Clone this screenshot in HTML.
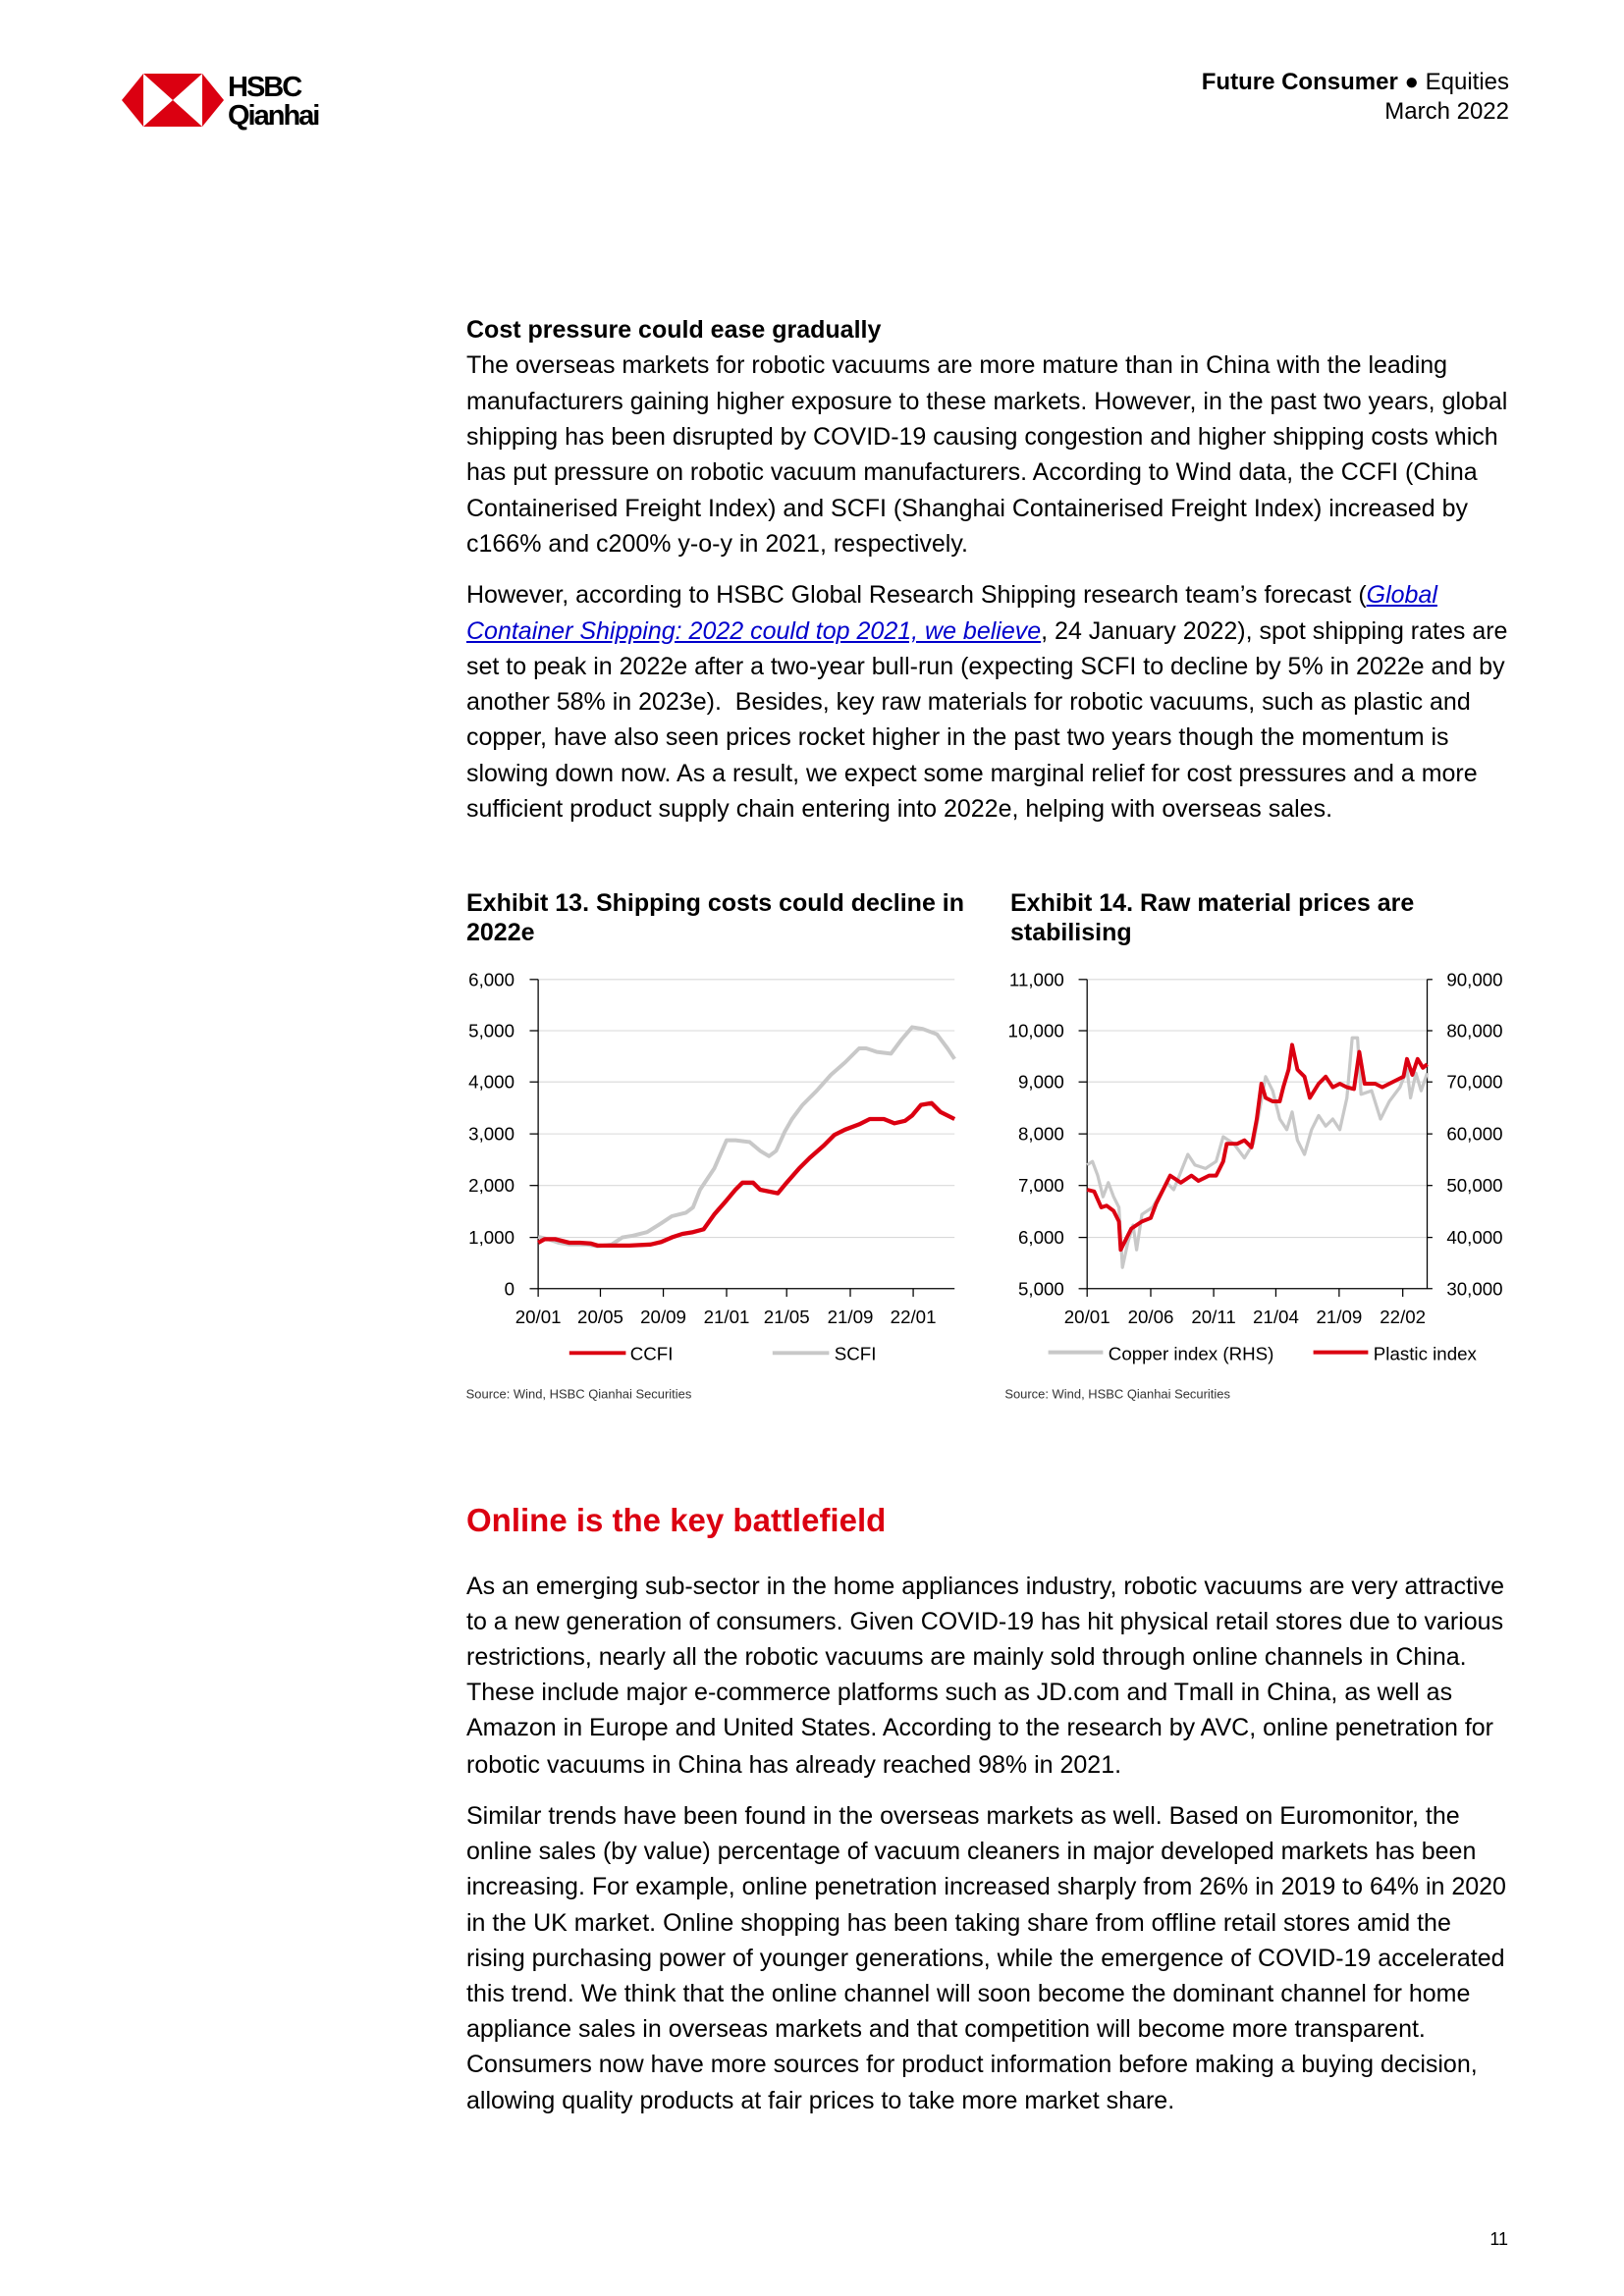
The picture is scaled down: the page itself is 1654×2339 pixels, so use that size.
<!DOCTYPE html>
<html><head><meta charset="utf-8">
<style>
body{margin:0;background:#fff;}
#p{position:relative;width:1654px;height:2339px;overflow:hidden;font-family:"Liberation Sans",Arial,sans-serif;color:#000;}
.l{position:absolute;left:475px;white-space:nowrap;font-size:25px;line-height:30px;}
.b{font-weight:bold;}
a{color:#00c;font-style:italic;text-decoration:underline;}
.t{position:absolute;white-space:nowrap;font-size:25px;font-weight:bold;line-height:30px;}
</style></head><body><div id="p">
<svg style="position:absolute;left:0;top:0" width="1654" height="2339">
<polygon points="124,102 146,75 206,75 228,102 206,129 146,129" fill="#db0011"/>
<polygon points="146,75 176,102 146,129" fill="#fff"/>
<polygon points="206,75 176,102 206,129" fill="#fff"/>
<text x="232" y="98" font-family="Liberation Sans" font-weight="bold" font-size="29" letter-spacing="-2">HSBC</text>
<text x="232" y="127" font-family="Liberation Sans" font-weight="bold" font-size="29" letter-spacing="-2">Qianhai</text>
<text x="1537" y="91" text-anchor="end" font-family="Liberation Sans" font-size="24"><tspan font-weight="bold">Future Consumer</tspan> ● Equities</text>
<text x="1537" y="121" text-anchor="end" font-family="Liberation Sans" font-size="24">March 2022</text>

<!-- chart 1 -->
<g transform="translate(461,888) scale(0.36)" font-family="Liberation Sans" font-size="52" fill="#000">
<g stroke="#d9d9d9" stroke-width="3">
<line x1="242" y1="305" x2="1420" y2="305"/><line x1="242" y1="450" x2="1420" y2="450"/><line x1="242" y1="595" x2="1420" y2="595"/><line x1="242" y1="742" x2="1420" y2="742"/><line x1="242" y1="888" x2="1420" y2="888"/><line x1="242" y1="1035" x2="1420" y2="1035"/>
</g>
<g stroke="#000" stroke-width="3.5">
<line x1="242" y1="305" x2="242" y2="1180"/><line x1="242" y1="1180" x2="1420" y2="1180"/>
<line x1="218" y1="305" x2="242" y2="305"/><line x1="218" y1="450" x2="242" y2="450"/><line x1="218" y1="595" x2="242" y2="595"/><line x1="218" y1="742" x2="242" y2="742"/><line x1="218" y1="888" x2="242" y2="888"/><line x1="218" y1="1035" x2="242" y2="1035"/><line x1="218" y1="1180" x2="242" y2="1180"/>
<line x1="242" y1="1180" x2="242" y2="1203"/><line x1="418" y1="1180" x2="418" y2="1203"/><line x1="596" y1="1180" x2="596" y2="1203"/><line x1="775" y1="1180" x2="775" y2="1203"/><line x1="945" y1="1180" x2="945" y2="1203"/><line x1="1125" y1="1180" x2="1125" y2="1203"/><line x1="1303" y1="1180" x2="1303" y2="1203"/>
</g>
<g text-anchor="end">
<text x="175" y="323">6,000</text><text x="175" y="468">5,000</text><text x="175" y="613">4,000</text><text x="175" y="760">3,000</text><text x="175" y="906">2,000</text><text x="175" y="1053">1,000</text><text x="175" y="1198">0</text>
</g>
<g text-anchor="middle">
<text x="242" y="1278">20/01</text><text x="418" y="1278">20/05</text><text x="596" y="1278">20/09</text><text x="775" y="1278">21/01</text><text x="945" y="1278">21/05</text><text x="1125" y="1278">21/09</text><text x="1303" y="1278">22/01</text>
</g>
<g fill="none" stroke-linejoin="round">
<polyline stroke="#c8c8c8" stroke-width="11" points="242,1033 270,1040 300,1050 330,1055 380,1055 410,1060 450,1055 480,1035 510,1030 550,1020 590,995 620,975 660,965 680,950 700,900 740,840 775,760 800,760 840,765 870,790 895,805 915,790 940,735 960,700 990,660 1030,620 1070,575 1110,540 1150,500 1170,500 1200,510 1240,515 1270,475 1300,440 1330,445 1370,460 1400,500 1420,530"/>
<polyline stroke="#db0011" stroke-width="12" points="242,1050 260,1040 290,1040 330,1050 360,1050 390,1052 410,1058 440,1058 500,1058 560,1055 590,1048 620,1035 650,1025 680,1020 710,1012 740,970 775,930 800,900 820,880 850,880 870,900 920,910 945,880 980,840 1010,810 1050,775 1080,745 1110,730 1150,715 1180,700 1220,700 1250,712 1280,705 1300,690 1325,660 1355,655 1380,680 1420,700"/>
</g>
<line x1="330" y1="1362" x2="490" y2="1362" stroke="#db0011" stroke-width="11"/>
<text x="502" y="1382">CCFI</text>
<line x1="905" y1="1362" x2="1065" y2="1362" stroke="#c8c8c8" stroke-width="11"/>
<text x="1080" y="1382">SCFI</text>
<text x="38" y="1490" font-size="36" fill="#333">Source: Wind, HSBC Qianhai Securities</text>
</g>

<!-- chart 2 -->
<g transform="translate(1019,888) scale(0.36)" font-family="Liberation Sans" font-size="52" fill="#000">
<g stroke="#d9d9d9" stroke-width="3">
<line x1="245" y1="305" x2="1207" y2="305"/><line x1="245" y1="450" x2="1207" y2="450"/><line x1="245" y1="595" x2="1207" y2="595"/><line x1="245" y1="742" x2="1207" y2="742"/><line x1="245" y1="888" x2="1207" y2="888"/><line x1="245" y1="1035" x2="1207" y2="1035"/>
</g>
<g stroke="#000" stroke-width="3.5">
<line x1="245" y1="305" x2="245" y2="1180"/><line x1="245" y1="1180" x2="1222" y2="1180"/><line x1="1207" y1="305" x2="1207" y2="1180"/>
<line x1="221" y1="305" x2="245" y2="305"/><line x1="221" y1="450" x2="245" y2="450"/><line x1="221" y1="595" x2="245" y2="595"/><line x1="221" y1="742" x2="245" y2="742"/><line x1="221" y1="888" x2="245" y2="888"/><line x1="221" y1="1035" x2="245" y2="1035"/><line x1="221" y1="1180" x2="245" y2="1180"/>
<line x1="1207" y1="305" x2="1222" y2="305"/><line x1="1207" y1="450" x2="1222" y2="450"/><line x1="1207" y1="595" x2="1222" y2="595"/><line x1="1207" y1="742" x2="1222" y2="742"/><line x1="1207" y1="888" x2="1222" y2="888"/><line x1="1207" y1="1035" x2="1222" y2="1035"/>
<line x1="245" y1="1180" x2="245" y2="1203"/><line x1="425" y1="1180" x2="425" y2="1203"/><line x1="603" y1="1180" x2="603" y2="1203"/><line x1="779" y1="1180" x2="779" y2="1203"/><line x1="958" y1="1180" x2="958" y2="1203"/><line x1="1138" y1="1180" x2="1138" y2="1203"/>
</g>
<g text-anchor="end">
<text x="180" y="323">11,000</text><text x="180" y="468">10,000</text><text x="180" y="613">9,000</text><text x="180" y="760">8,000</text><text x="180" y="906">7,000</text><text x="180" y="1053">6,000</text><text x="180" y="1198">5,000</text>
</g>
<g>
<text x="1262" y="323">90,000</text><text x="1262" y="468">80,000</text><text x="1262" y="613">70,000</text><text x="1262" y="760">60,000</text><text x="1262" y="906">50,000</text><text x="1262" y="1053">40,000</text><text x="1262" y="1198">30,000</text>
</g>
<g text-anchor="middle">
<text x="245" y="1278">20/01</text><text x="425" y="1278">20/06</text><text x="603" y="1278">20/11</text><text x="779" y="1278">21/04</text><text x="958" y="1278">21/09</text><text x="1138" y="1278">22/02</text>
</g>
<g fill="none" stroke-linejoin="round">
<polyline stroke="#c8c8c8" stroke-width="9" points="245,830 260,820 275,860 290,920 305,880 320,920 335,950 345,1120 360,1050 375,1000 385,1070 400,970 430,950 470,880 490,900 530,800 550,830 580,840 610,820 630,750 660,770 690,810 715,770 730,690 750,580 770,620 790,700 810,730 825,680 840,760 860,800 880,730 900,690 920,720 940,700 960,730 980,640 995,470 1010,470 1020,630 1050,620 1075,700 1100,650 1130,610 1150,560 1160,640 1175,570 1190,620 1207,570"/>
<polyline stroke="#db0011" stroke-width="11" points="245,900 265,905 285,950 300,945 320,960 335,990 340,1070 350,1050 370,1010 400,990 425,980 440,940 470,880 480,860 510,880 540,860 560,875 590,860 610,860 630,820 640,770 670,770 690,760 710,780 725,700 738,600 750,640 770,650 790,650 800,610 815,560 825,490 840,560 860,580 875,640 900,600 920,580 940,610 960,600 980,610 1000,615 1015,510 1030,600 1060,600 1080,610 1100,600 1120,590 1140,580 1150,530 1165,575 1180,530 1195,555 1207,545"/>
</g>
<line x1="135" y1="1360" x2="290" y2="1360" stroke="#c8c8c8" stroke-width="11"/>
<text x="305" y="1382">Copper index (RHS)</text>
<line x1="885" y1="1360" x2="1040" y2="1360" stroke="#db0011" stroke-width="11"/>
<text x="1055" y="1382">Plastic index</text>
<text x="12" y="1490" font-size="36" fill="#333">Source: Wind, HSBC Qianhai Securities</text>
</g>
</svg>

<div class="l b" style="top:321px">Cost pressure could ease gradually</div>
<div class="l" style="top:357px">The overseas markets for robotic vacuums are more mature than in China with the leading</div>
<div class="l" style="top:394px">manufacturers gaining higher exposure to these markets. However, in the past two years, global</div>
<div class="l" style="top:430px">shipping has been disrupted by COVID-19 causing congestion and higher shipping costs which</div>
<div class="l" style="top:466px">has put pressure on robotic vacuum manufacturers. According to Wind data, the CCFI (China</div>
<div class="l" style="top:503px">Containerised Freight Index) and SCFI (Shanghai Containerised Freight Index) increased by</div>
<div class="l" style="top:539px">c166% and c200% y-o-y in 2021, respectively.</div>

<div class="l" style="top:591px">However, according to HSBC Global Research Shipping research team’s forecast (<a>Global</a></div>
<div class="l" style="top:628px"><a>Container Shipping: 2022 could top 2021, we believe</a>, 24 January 2022), spot shipping rates are</div>
<div class="l" style="top:664px">set to peak in 2022e after a two-year bull-run (expecting SCFI to decline by 5% in 2022e and by</div>
<div class="l" style="top:700px">another 58% in 2023e).&nbsp; Besides, key raw materials for robotic vacuums, such as plastic and</div>
<div class="l" style="top:736px">copper, have also seen prices rocket higher in the past two years though the momentum is</div>
<div class="l" style="top:773px">slowing down now. As a result, we expect some marginal relief for cost pressures and a more</div>
<div class="l" style="top:809px">sufficient product supply chain entering into 2022e, helping with overseas sales.</div>

<div class="t" style="left:475px;top:905px">Exhibit 13. Shipping costs could decline in</div>
<div class="t" style="left:475px;top:935px">2022e</div>
<div class="t" style="left:1029px;top:905px">Exhibit 14. Raw material prices are</div>
<div class="t" style="left:1029px;top:935px">stabilising</div>

<div style="position:absolute;left:475px;top:1530px;font-size:33px;font-weight:bold;color:#db0011;white-space:nowrap">Online is the key battlefield</div>

<div class="l" style="top:1601px">As an emerging sub-sector in the home appliances industry, robotic vacuums are very attractive</div>
<div class="l" style="top:1637px">to a new generation of consumers. Given COVID-19 has hit physical retail stores due to various</div>
<div class="l" style="top:1673px">restrictions, nearly all the robotic vacuums are mainly sold through online channels in China.</div>
<div class="l" style="top:1709px">These include major e-commerce platforms such as JD.com and Tmall in China, as well as</div>
<div class="l" style="top:1745px">Amazon in Europe and United States. According to the research by AVC, online penetration for</div>
<div class="l" style="top:1783px">robotic vacuums in China has already reached 98% in 2021.</div>

<div class="l" style="top:1835px">Similar trends have been found in the overseas markets as well. Based on Euromonitor, the</div>
<div class="l" style="top:1871px">online sales (by value) percentage of vacuum cleaners in major developed markets has been</div>
<div class="l" style="top:1907px">increasing. For example, online penetration increased sharply from 26% in 2019 to 64% in 2020</div>
<div class="l" style="top:1944px">in the UK market. Online shopping has been taking share from offline retail stores amid the</div>
<div class="l" style="top:1980px">rising purchasing power of younger generations, while the emergence of COVID-19 accelerated</div>
<div class="l" style="top:2016px">this trend. We think that the online channel will soon become the dominant channel for home</div>
<div class="l" style="top:2052px">appliance sales in overseas markets and that competition will become more transparent.</div>
<div class="l" style="top:2088px">Consumers now have more sources for product information before making a buying decision,</div>
<div class="l" style="top:2125px">allowing quality products at fair prices to take more market share.</div>

<div style="position:absolute;right:118px;top:2271px;font-size:18px">11</div>
</div></body></html>
